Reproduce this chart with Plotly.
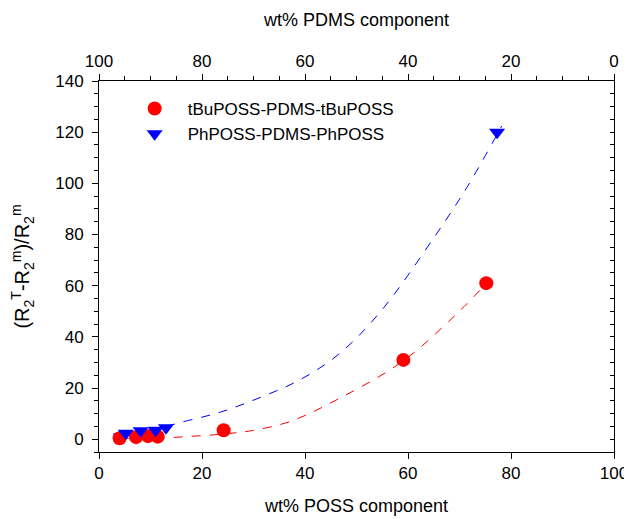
import plotly.graph_objects as go

# Data
tbu_x = [4.0, 7.2, 9.5, 11.4, 24.2, 59.1, 75.2]
tbu_y = [0.4, 0.8, 1.2, 1.0, 3.5, 31.0, 61.0]
ph_x = [5.2, 8.1, 11.0, 13.0, 77.3]
ph_y = [2.3, 3.3, 3.5, 4.5, 120.0]

# Dashed fit curves
tbu_fit_x = [4, 12, 18.5, 24, 29.8, 37.2, 46.9, 59, 69.2, 75.5]
tbu_fit_y = [0.3, 0.5, 1.2, 2.0, 3.4, 7.0, 16.2, 30.5, 48.5, 61.5]
ph_fit_x = [2.7, 8, 13, 15.9, 23.6, 31.4, 39.1, 46.9, 55, 65, 71.4, 78.2]
ph_fit_y = [2.0, 3.3, 5.0, 6.6, 10.6, 16.4, 23.3, 33.8, 50.7, 78.7, 98.3, 122.4]

bottom_ticks = [0, 20, 40, 60, 80, 100]
top_ticks = [100, 80, 60, 40, 20, 0]
y_ticks = [0, 20, 40, 60, 80, 100, 120, 140]

RED = "#ff0000"
BLUE = "#0000ff"
FONT = "Liberation Sans, Arial, sans-serif"

fig = go.Figure()
fig.add_trace(go.Scatter(x=tbu_fit_x, y=tbu_fit_y, mode="lines",
                         line=dict(color=RED, width=1, dash="dash", shape="spline"),
                         showlegend=False, hoverinfo="skip"))
fig.add_trace(go.Scatter(x=ph_fit_x, y=ph_fit_y, mode="lines",
                         line=dict(color=BLUE, width=1, dash="dash", shape="spline"),
                         showlegend=False, hoverinfo="skip"))
fig.add_trace(go.Scatter(x=tbu_x, y=tbu_y, mode="markers", name="tBuPOSS-PDMS-tBuPOSS",
                         marker=dict(symbol="circle", size=14, color=RED, line=dict(width=0))))
fig.add_trace(go.Scatter(x=ph_x, y=ph_y, mode="markers", name="PhPOSS-PDMS-PhPOSS",
                         marker=dict(symbol="triangle-down", size=14, color=BLUE, line=dict(width=0))))
# invisible traces to anchor the secondary axes
fig.add_trace(go.Scatter(x=[100 - v for v in tbu_x], y=tbu_y, xaxis="x2", yaxis="y",
                         mode="markers", marker=dict(opacity=0), showlegend=False, hoverinfo="skip"))
fig.add_trace(go.Scatter(x=tbu_x, y=tbu_y, xaxis="x", yaxis="y2",
                         mode="markers", marker=dict(opacity=0), showlegend=False, hoverinfo="skip"))

axis_common = dict(showline=True, linecolor="black", linewidth=1, showgrid=False,
                   zeroline=False, ticks="outside", tickcolor="black", ticklen=6,
                   tickwidth=1, automargin=False,
                   tickfont=dict(size=17, color="black", family=FONT))

# page body has an 8px margin, so the figure is sized/placed to compensate
fig.update_layout(
    width=624, height=511,
    margin=dict(l=91, r=18, t=73, b=67),
    paper_bgcolor="white", plot_bgcolor="white",
    font=dict(family=FONT, color="black"),
    xaxis=dict(range=[0, 100], tickvals=bottom_ticks,
               title=dict(text="wt% POSS component", font=dict(size=18), standoff=16),
               **axis_common),
    xaxis2=dict(range=[100, 0], tickvals=top_ticks, overlaying="x", side="top", anchor="y",
                title=dict(text="wt% PDMS component", font=dict(size=18), standoff=20),
                minor=dict(dtick=5, tick0=0, ticks="outside", ticklen=4, tickcolor="black"),
                **axis_common),
    yaxis=dict(range=[-5, 140], tickvals=y_ticks, ticklabelstandoff=5,
               title=dict(text="(R<sub>2</sub><sup>T</sup>-R<sub>2</sub><sup>m</sup>)/R<sub>2</sub><sup>m</sup>",
                          font=dict(size=20), standoff=20),
               minor=dict(dtick=5, tick0=0, ticks="outside", ticklen=4, tickcolor="black"),
               **axis_common),
    yaxis2=dict(range=[-5, 140], overlaying="y", side="right", anchor="x",
                showline=True, linecolor="black", linewidth=1, showgrid=False, zeroline=False,
                ticks="inside", ticklen=4, tickcolor="black", showticklabels=False,
                tickvals=y_ticks, automargin=False,
                minor=dict(dtick=5, tick0=0, ticks="inside", ticklen=4, tickcolor="black")),
    legend=dict(x=0.044, y=0.973, xanchor="left", yanchor="top", bgcolor="rgba(0,0,0,0)",
                font=dict(size=17, color="black", family=FONT), itemwidth=56,
                tracegroupgap=0),
)

fig.write_html("out.html")
